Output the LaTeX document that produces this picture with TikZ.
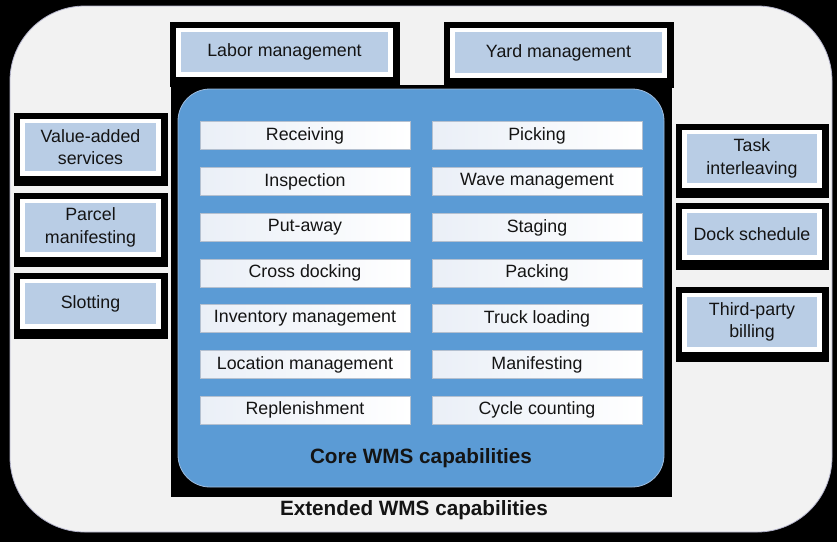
\documentclass[tikz,border=0pt]{standalone}
\usepackage{fontspec}
\setmainfont{Liberation Sans}
\definecolor{pagegray}{HTML}{F2F2F2}
\definecolor{coreblue}{HTML}{5B9BD5}
\definecolor{coreedge}{HTML}{9DBBDD}
\definecolor{paleblue}{HTML}{B9CDE5}
\definecolor{boxtint}{HTML}{EAEFF7}
\definecolor{boxedge}{HTML}{B4C0D0}
\definecolor{inktext}{HTML}{141414}
\pgfdeclarelayer{back}
\pgfdeclarelayer{frames}
\pgfsetlayers{back,frames,main}
\tikzset{
  labelfont/.style={font=\fontsize{17.8}{22.5}\selectfont},
  extbox/.style={fill=paleblue, inner sep=0pt, align=center, text=inktext, labelfont},
  corebox/.style={draw=boxedge, line width=0.6pt, left color=boxtint, right color=white,
    minimum width=210pt, minimum height=28pt, inner sep=0pt, text=inktext, labelfont},
  captitle/.style={font=\bfseries\fontsize{20.7}{24}\selectfont, text=inktext, inner sep=0pt}
}
% blue label box with its white and black frames: name, x1, y1, x2, y2, text
\newcommand\extcap[6]{%
  \node[extbox, minimum width={(#4-#2)*1pt}, minimum height={(#5-#3)*1pt}]
    (#1) at ({(#2+#4)/2},{(#3+#5)/2}) {#6};
  \begin{pgfonlayer}{frames}
    \fill[black] ([shift={(-11,-10)}]#1.north west) rectangle ([shift={(11.5,15)}]#1.south east);
    \fill[white] ([shift={(-4.5,-4)}]#1.north west) rectangle ([shift={(4.5,4.5)}]#1.south east);
  \end{pgfonlayer}%
}
\begin{document}
\begin{tikzpicture}[x=1pt, y=-1pt]
  \useasboundingbox (0,0) rectangle (837,542);
  \begin{pgfonlayer}{back}
    \fill[black] (0,0) rectangle (837,542);
    \filldraw[fill=pagegray, draw=black!70!blue!30, line width=0.8pt, rounded corners=75pt]
      (10,6) rectangle (832,532);
  \end{pgfonlayer}

  % core area
  \fill[black] (171,85) rectangle (672,497);
  \node[draw=coreedge, line width=0.8pt, fill=coreblue, rounded corners=32pt,
        minimum width=486pt, minimum height=398pt, inner sep=0pt] (core) at (421,288) {};

  \node[corebox] (recv)  at (305,135.5)  {Receiving};
  \node[corebox] (insp)  at (305,181.5)  {Inspection};
  \node[corebox] (put)   at (305,227.5)  {Put-away};
  \node[corebox] (cross) at (305,273)    {Cross docking};
  \node[corebox] (inv)   at (305,318.5)  {Inventory management};
  \node[corebox] (loc)   at (305,364.5)  {Location management};
  \node[corebox] (repl)  at (305,410)    {Replenishment};

  \node[corebox] (pick)  at (537,135.5)  {Picking};
  \node[corebox] (wave)  at (537,181.5)  {Wave management};
  \node[corebox] (stage) at (537,227.5)  {Staging};
  \node[corebox] (pack)  at (537,273)    {Packing};
  \node[corebox] (truck) at (537,318.5)  {Truck loading};
  \node[corebox] (manif) at (537,364.5)  {Manifesting};
  \node[corebox] (cycle) at (537,410)    {Cycle counting};

  \node[captitle] (coretitle) at (421,458) {Core WMS capabilities};
  \node[captitle] (exttitle)  at (414,510) {Extended WMS capabilities};

  % extended capabilities
  \extcap{labor}{181}{32}{388}{72}{Labor management}
  \extcap{yard}{455}{32}{662}{73}{Yard management}

  \extcap{vas}{25}{123}{156}{171}{Value-added\\services}
  \extcap{parcel}{25}{203}{156}{252}{Parcel\\manifesting}
  \extcap{slot}{25}{283}{156}{324}{Slotting}

  \extcap{task}{687}{134}{817}{183}{Task\\interleaving}
  \extcap{dock}{687}{213}{817}{255}{Dock schedule}
  \extcap{third}{687}{297}{817}{347}{Third-party\\billing}
\end{tikzpicture}
\end{document}
